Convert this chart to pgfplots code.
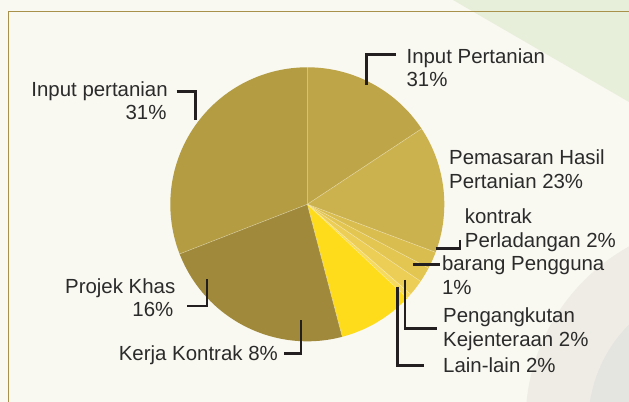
\documentclass[border=0pt]{standalone}
\usepackage{pgfplots}
\usepackage{pgfplotstable}
\pgfplotsset{compat=1.18}
\usepackage{fontspec}
\setmainfont{Liberation Sans}
\definecolor{bgc}{HTML}{F9F8F1}
\definecolor{greenband}{HTML}{E7EEDA}
\definecolor{grayA}{HTML}{EEECE4}
\definecolor{grayB}{HTML}{E4E4E1}
\definecolor{borderc}{HTML}{A8914A}
\definecolor{txt}{HTML}{2B2B2B}
\definecolor{lead}{HTML}{231F20}
\definecolor{cTR}{HTML}{BDA548}
\definecolor{cPem}{HTML}{CCB24F}
\definecolor{cKon}{HTML}{D9BD4F}
\definecolor{cBar}{HTML}{E3C552}
\definecolor{cPen}{HTML}{ECCD56}
\definecolor{cLain}{HTML}{F6DA5E}
\definecolor{cYel}{HTML}{FEDC1C}
\definecolor{cOlive}{HTML}{A0893A}
\definecolor{cLeft}{HTML}{B39C42}

% slice shares (percent of the full circle), clockwise from 12 o'clock
\pgfplotstableread{
pct  col
15.7 cTR
15.0 cPem
2.0  cKon
1.8  cBar
1.9  cPen
0.6  cLain
8.9  cYel
23.2 cOlive
30.9 cLeft
}\piedata

\begin{document}
\begin{tikzpicture}
\begin{axis}[
  width=629bp, height=402bp, scale only axis,
  xmin=0, xmax=629, ymin=-402, ymax=0,
  hide axis,
]
% background
\fill[bgc] (axis cs:0,0) rectangle (axis cs:629,-402);
\fill[greenband] (axis cs:453,0) -- (axis cs:629,0) -- (axis cs:629,-102) -- cycle;
\fill[grayA] (axis cs:726.5,-422.3) circle[radius=201];
\fill[grayB] (axis cs:726.5,-422.3) circle[radius=138];
\draw[borderc, line width=1.2bp] (axis cs:8.8,-420) -- (axis cs:8.8,-11.7) -- (axis cs:640,-11.7);

% pie
\xdef\curang{90}
\pgfplotsinvokeforeach{0,1,2,3,4,5,6,7,8}{%
  \pgfplotstablegetelem{#1}{pct}\of\piedata \let\pp\pgfplotsretval
  \pgfplotstablegetelem{#1}{col}\of\piedata \let\cc\pgfplotsretval
  \pgfmathsetmacro\endang{\curang-3.6*\pp}%
  \edef\temp{\noexpand\fill[\cc] (axis cs:307.3,-204.3) -- ++(\curang:137bp) arc[start angle=\curang, end angle=\endang, radius=137bp] -- cycle;
    \noexpand\draw[white, draw opacity=0.35, line width=0.6bp] (axis cs:307.3,-204.3) -- ++(\curang:137bp);}%
  \temp
  \xdef\curang{\endang}%
}

% leaders
\begin{scope}[lead, line width=2.5bp]
\draw (axis cs:366.7,-85) -- (axis cs:366.7,-54.3) -- (axis cs:395.6,-54.3);
\draw (axis cs:176.7,-91.7) -- (axis cs:195.6,-91.7) -- (axis cs:195.6,-120);
\draw (axis cs:435.7,-248.3) -- (axis cs:459.8,-248.3) -- (axis cs:459.8,-240);
\draw (axis cs:412.9,-264.3) -- (axis cs:439.8,-264.3);
\draw (axis cs:404.8,-280) -- (axis cs:404.8,-328.3) -- (axis cs:437,-328.3);
\draw (axis cs:397.6,-286.7) -- (axis cs:397.6,-365.7) -- (axis cs:423.7,-365.7);
\draw (axis cs:206.8,-279.3) -- (axis cs:206.8,-306) -- (axis cs:187.1,-306);
\draw (axis cs:301,-320) -- (axis cs:301,-353.3) -- (axis cs:284.3,-353.3);
\end{scope}

% labels
\begin{scope}[every node/.style={txt, font=\fontsize{20.5}{23}\selectfont, inner sep=0pt}]
\node[anchor=base west] at (axis cs:406.4,-63.3) {Input Pertanian};
\node[anchor=base west] at (axis cs:406.4,-86.7) {31\%};
\node[anchor=base east] at (axis cs:167.9,-96.7) {Input pertanian};
\node[anchor=base east] at (axis cs:166.7,-120) {31\%};
\node[anchor=base west] at (axis cs:449,-165) {Pemasaran Hasil};
\node[anchor=base west] at (axis cs:449,-188.3) {Pertanian 23\%};
\node[anchor=base west] at (axis cs:464.7,-223.3) {kontrak};
\node[anchor=base west] at (axis cs:464.7,-247.3) {Perladangan 2\%};
\node[anchor=base west] at (axis cs:441.8,-270.7) {barang Pengguna};
\node[anchor=base west] at (axis cs:441.8,-295) {1\%};
\node[anchor=base west] at (axis cs:443,-322.7) {Pengangkutan};
\node[anchor=base west] at (axis cs:443,-346.7) {Kejenteraan 2\%};
\node[anchor=base west] at (axis cs:443,-372.7) {Lain-lain 2\%};
\node[anchor=base east] at (axis cs:175.5,-294) {Projek Khas};
\node[anchor=base east] at (axis cs:173.5,-316.7) {16\%};
\node[anchor=base east] at (axis cs:278,-360.7) {Kerja Kontrak 8\%};
\end{scope}
\end{axis}
\pgfresetboundingbox
\path[use as bounding box] (current axis.south west) rectangle (current axis.north east);
\end{tikzpicture}
\end{document}
